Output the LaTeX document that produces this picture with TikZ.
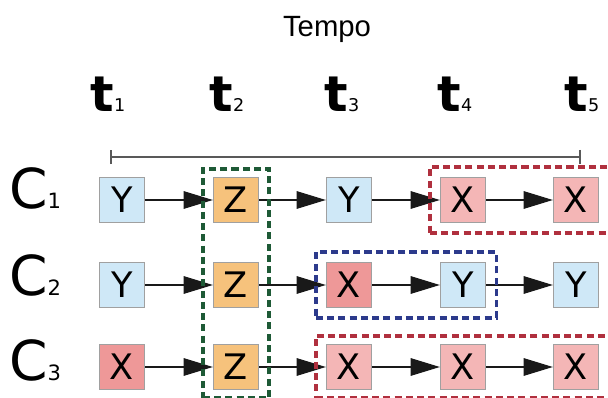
\documentclass[tikz,border=0pt]{standalone}
\usepackage{fontspec}
\setmainfont{DejaVu Sans}
\newfontfamily\tempofont{Liberation Sans}
\usetikzlibrary{arrows.meta,fit}

\definecolor{ycol}{HTML}{CFE8F7}
\definecolor{zcol}{HTML}{F6C27C}
\definecolor{xcol}{HTML}{F4B6B6}
\definecolor{xdark}{HTML}{EE9898}
\definecolor{boxgray}{HTML}{A0A0A0}
\definecolor{grpgreen}{HTML}{1E5A36}
\definecolor{grpblue}{HTML}{2C3A8C}
\definecolor{grpred}{HTML}{B0303E}

\newcommand\tlab[1]{{\fontsize{42}{42}\selectfont\bfseries t}{\fontsize{15}{15}\selectfont #1}}
\newcommand\clab[1]{{\fontsize{47}{47}\selectfont C}{\fontsize{18}{18}\selectfont #1}}

\tikzset{
  evt/.style={draw=boxgray, line width=0.8pt, minimum size=1.36cm, inner sep=0pt,
    font=\fontsize{30}{30}\selectfont},
  ybox/.style={evt, fill=ycol},
  zbox/.style={evt, fill=zcol},
  xbox/.style={evt, fill=xcol},
  xdbox/.style={evt, fill=xdark},
  flow/.style={line width=1.1pt, draw=black!90, -{Triangle[length=25pt,width=15pt]}},
  grp/.style={line width=2.8pt, dash pattern=on 6pt off 3.6pt, inner xsep=0.3cm, inner ysep=0.3cm},
  timeline/.style={line width=1.5pt, draw=black!65, {Bar[width=12pt]}-{Bar[width=12pt]}}
}

\begin{document}
\begin{tikzpicture}[x=0.03cm, y=-0.03cm]
\useasboundingbox (0,0) rectangle (608,398);

\node[font=\tempofont\fontsize{25}{25}\selectfont] (tempo) at (327,29) {Tempo};

\node[anchor=base] (t1) at (108,112) {\tlab{1}};
\node[anchor=base] (t2) at (227,112) {\tlab{2}};
\node[anchor=base] (t3) at (342,112) {\tlab{3}};
\node[anchor=base] (t4) at (455,112) {\tlab{4}};
\node[anchor=base] (t5) at (582,112) {\tlab{5}};

\coordinate (tl) at (110,157);
\coordinate (tr) at (581,157);
\draw[timeline] (tl) -- (tr);

\node[anchor=base] (c1) at (35,209) {\clab{1}};
\node[anchor=base] (c2) at (35,296) {\clab{2}};
\node[anchor=base] (c3) at (35,380) {\clab{3}};

% C1
\node[ybox] (c1t1) at (122,200) {Y};
\node[zbox] (c1t2) at (236,200) {Z};
\node[ybox] (c1t3) at (349,200) {Y};
\node[xbox] (c1t4) at (463,200) {X};
\node[xbox] (c1t5) at (576,200) {X};
% C2
\node[ybox] (c2t1) at (122,285) {Y};
\node[zbox] (c2t2) at (236,285) {Z};
\node[xdbox] (c2t3) at (349,285) {X};
\node[ybox] (c2t4) at (463,285) {Y};
\node[ybox] (c2t5) at (576,285) {Y};
% C3
\node[xdbox] (c3t1) at (122,367) {X};
\node[zbox] (c3t2) at (236,367) {Z};
\node[xbox] (c3t3) at (349,367) {X};
\node[xbox] (c3t4) at (463,367) {X};
\node[xbox] (c3t5) at (576,367) {X};

\draw[flow] (c1t1) -- (c1t2);
\draw[flow] (c1t2) -- (c1t3);
\draw[flow] (c1t3) -- (c1t4);
\draw[flow] (c1t4) -- (c1t5);
\draw[flow] (c2t1) -- (c2t2);
\draw[flow] (c2t2) -- (c2t3);
\draw[flow] (c2t3) -- (c2t4);
\draw[flow] (c2t4) -- (c2t5);
\draw[flow] (c3t1) -- (c3t2);
\draw[flow] (c3t2) -- (c3t3);
\draw[flow] (c3t3) -- (c3t4);
\draw[flow] (c3t4) -- (c3t5);

\node[grp, draw=grpgreen, inner ysep=0.24cm, fit=(c1t2)(c3t2)] (gz) {};
\node[grp, draw=grpred, fit=(c1t4)(c1t5)] (gx1) {};
\node[grp, draw=grpblue, fit=(c2t3)(c2t4)] (gxy) {};
\node[grp, draw=grpred, inner ysep=0.24cm, fit=(c3t3)(c3t5)] (gx3) {};
\end{tikzpicture}
\end{document}
